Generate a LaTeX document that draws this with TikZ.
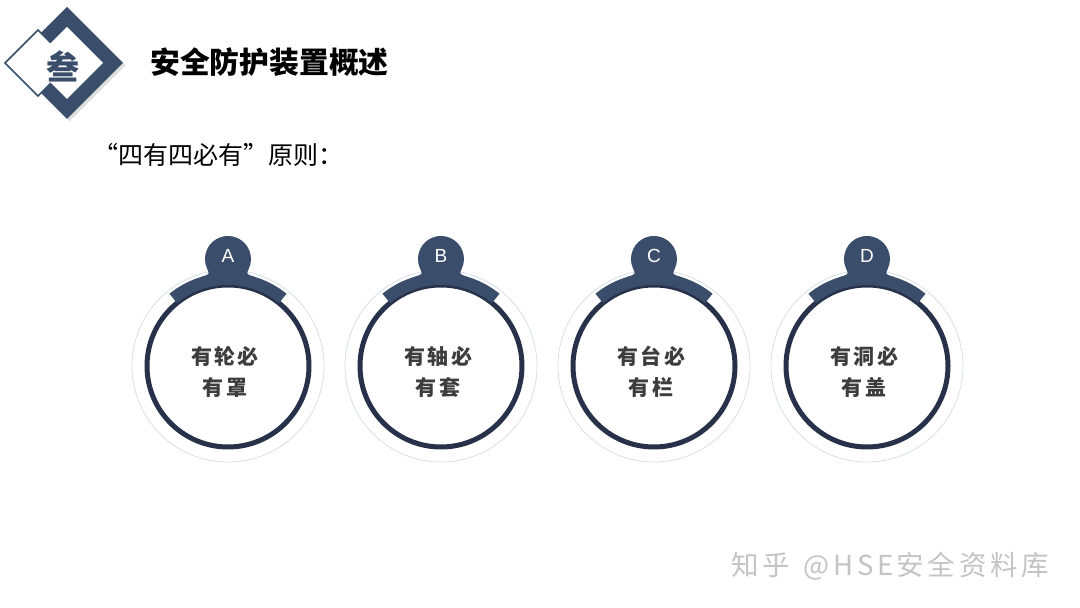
\documentclass[tikz,border=0pt]{standalone}
\usepackage{fontspec}
\setmainfont{Noto Sans CJK SC}
\newfontfamily\cjk{Noto Sans CJK SC}
\newfontfamily\lat{Liberation Sans}
\usetikzlibrary{shadows}
\definecolor{navy}{HTML}{3A4D6A}
\definecolor{ringc}{HTML}{27324A}
\definecolor{thinc}{HTML}{D3DCE6}
\definecolor{txtc}{HTML}{3D3D3D}
\definecolor{wmc}{HTML}{C4C4C4}
\newcommand{\gp}{\hspace{2.5pt}}
\newcommand{\wg}{\hspace{3.6pt}}
\begin{document}
\begin{tikzpicture}[x=1pt,y=1pt,
  thinring/.style={draw=thinc,line width=0.7pt},
  thickring/.style={draw=ringc,line width=5pt,fill=white},
  band/.style={fill=navy},
  letterlbl/.style={text=white,font=\lat\fontsize{19}{19}\selectfont,inner sep=0pt},
  inner/.style={text=txtc,font=\cjk\bfseries\fontsize{21}{21}\selectfont,inner sep=0pt}]
\useasboundingbox (0,0) rectangle (1080,608);
\fill[white] (0,0) rectangle (1080,608);

% logo
\fill[navy, drop shadow={opacity=0.25,shadow xshift=2.5pt,shadow yshift=-2.5pt}]
  (67,601) -- (123,545) -- (67,489) -- (11,545) -- cycle;
\filldraw[fill=white,draw=navy,line width=1.5pt]
  (38,578) -- (71,545) -- (38,512) -- (5,545) -- cycle;
\fill[white] (67,581) -- (103,545) -- (67,509) -- (31,545) -- cycle;
\node[text=navy,font=\cjk\bfseries\fontsize{33}{33}\selectfont,inner sep=0pt] (san) at (63,542) {叁};

% title
\node[anchor=west,font=\cjk\bfseries\fontsize{29.8}{29.8}\selectfont,inner sep=0pt] (title) at (150,546) {安全防护装置概述};
\node[anchor=west,font=\cjk\fontsize{25}{25}\selectfont,inner sep=0pt] (sub) at (93,453) {“四有四必有”原则：};

% circles
\foreach \i/\L/\a/\b in {0/A/有\gp 轮\gp 必/有\gp 罩, 1/B/有\gp 轴\gp 必/有\gp 套, 2/C/有\gp 台\gp 必/有\gp 栏, 3/D/有\gp 洞\gp 必/有\gp 盖}{
  \begin{scope}[shift={(228+\i*213,242)}]
    \draw[thinring] (0,0) circle[radius=96];
    \draw[thickring] (0,0) circle[radius=81];
    \fill[band] (51:93) arc[start angle=51,end angle=129,radius=93] -- (129:81) arc[start angle=129,end angle=51,radius=81] -- cycle;
    \fill[navy] (27.2,88.9) .. controls (18.2,91.7) .. (20.8,97.3)
      arc[start angle=-25,end angle=205,radius=23]
      .. controls (-18.2,91.7) .. (-27.2,88.9) -- cycle;
    \node[letterlbl] (l\L) at (0,110) {\L};
    \node[inner] (a\L) at (-3,9.5) {\a};
    \node[inner] (b\L) at (-3,-21.5) {\b};
  \end{scope}
}

% watermark
\node[anchor=west,text=wmc,font=\cjk\fontsize{27.5}{27.5}\selectfont,inner sep=0pt] (wm) at (731,42) {知\wg 乎\hspace{14pt}@\wg H\wg S\wg E\wg 安\wg 全\wg 资\wg 料\wg 库};
\end{tikzpicture}
\end{document}
